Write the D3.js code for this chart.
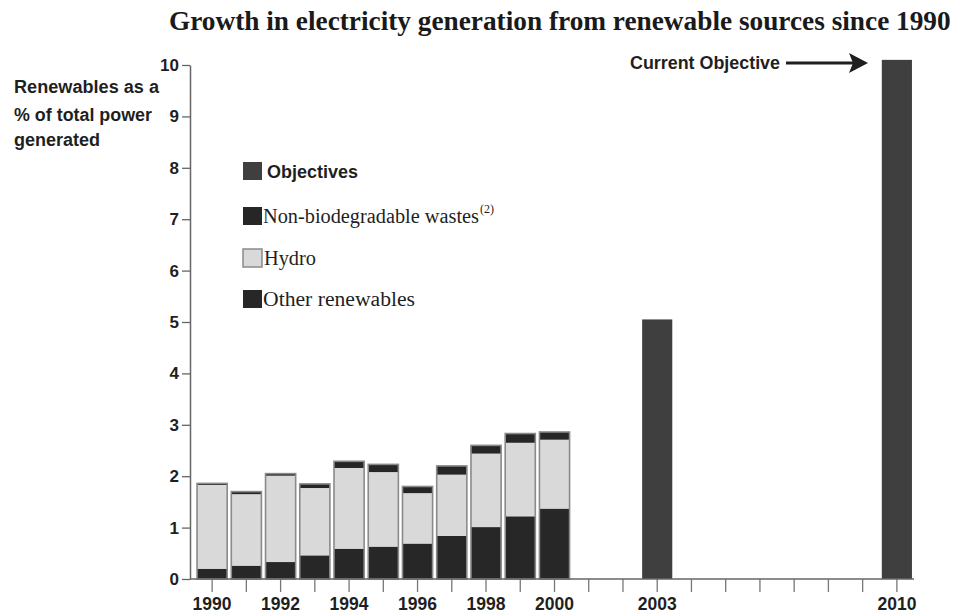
<!DOCTYPE html>
<html>
<head>
<meta charset="utf-8">
<script src="https://cdn.jsdelivr.net/npm/d3@7"></script>
<style>
  html, body { margin: 0; padding: 0; background: #fff; }
  svg { display: block; }
</style>
</head>
<body>
<svg id="chart" width="963" height="615"></svg>
<script>
// Renewables share of total power generated (%), by year
const years = [1990, 1991, 1992, 1993, 1994, 1995, 1996, 1997, 1998, 1999, 2000];
const otherRenewables = [0.20, 0.26, 0.33, 0.46, 0.59, 0.63, 0.69, 0.84, 1.01, 1.22, 1.37];
const hydro = [1.63, 1.39, 1.68, 1.31, 1.57, 1.45, 0.98, 1.19, 1.43, 1.43, 1.34];
const wastes = [0.03, 0.05, 0.04, 0.08, 0.13, 0.15, 0.13, 0.17, 0.16, 0.18, 0.15];

// Target shares
const objectiveYears = [2003, 2010];
const objectives = [5.05, 10.1];

// Axis ticks
const axisYears = d3.range(1990, 2011);
const labelledYears = [1990, 1992, 1994, 1996, 1998, 2000, 2003, 2010];
const yTicks = d3.range(0, 11);

const seriesKeys = ["other", "hydro", "wastes"];
const colors = { other: "#272727", hydro: "#d9d9d9", wastes: "#262626", objective: "#3f3f3f" };

const svg = d3.select("#chart");
const sans = "'Liberation Sans', Arial, sans-serif";
const serif = "'Liberation Serif', 'Times New Roman', serif";

const x = d3.scaleBand().domain(axisYears).range([195, 914]).paddingInner(0.12).paddingOuter(0.06);
const y = d3.scaleLinear().domain([0, 10]).range([579, 65]);
const axisX = 190;

// Title, horizontally condensed to span 169..951
const title = svg.append("text")
  .style("font-family", serif).style("font-weight", "bold").style("font-size", "28px")
  .attr("fill", "#1a1a1a")
  .text("Growth in electricity generation from renewable sources since 1990");
const titleNatural = title.node().getComputedTextLength();
title.attr("transform", `translate(169,30) scale(${782 / titleNatural},1)`);

// Y axis title
const yTitle = [
  { t: "Renewables as a", y: 93, w: 145 },
  { t: "% of total power", y: 121, w: 138 },
  { t: "generated", y: 146, w: 86 }
];
svg.append("g").selectAll("text").data(yTitle).join("text")
  .attr("x", 14).attr("y", d => d.y)
  .attr("textLength", d => d.w).attr("lengthAdjust", "spacingAndGlyphs")
  .style("font-family", sans).style("font-weight", "bold").style("font-size", "18px")
  .attr("fill", "#1f1f1f")
  .text(d => d.t);

// Stacked bars 1990-2000
const table = years.map((yr, i) => ({ year: yr, other: otherRenewables[i], hydro: hydro[i], wastes: wastes[i] }));
const stacked = d3.stack().keys(seriesKeys)(table);

const barG = svg.append("g");
stacked.forEach(layer => {
  barG.append("g").attr("fill", colors[layer.key])
    .selectAll("rect").data(layer).join("rect")
    .attr("x", d => x(d.data.year))
    .attr("width", x.bandwidth())
    .attr("y", d => y(d[1]))
    .attr("height", d => y(d[0]) - y(d[1]));
});
// Outline around each stack
barG.append("g").selectAll("rect").data(table).join("rect")
  .attr("x", d => x(d.year))
  .attr("width", x.bandwidth())
  .attr("y", d => y(d.other + d.hydro + d.wastes))
  .attr("height", d => y(0) - y(d.other + d.hydro + d.wastes))
  .attr("fill", "none").attr("stroke", "#8a8a8a").attr("stroke-width", 1.6);

// Objective bars
svg.append("g").selectAll("rect").data(objectiveYears.map((yr, i) => ({ year: yr, v: objectives[i] })))
  .join("rect")
  .attr("x", d => x(d.year))
  .attr("width", x.bandwidth())
  .attr("y", d => y(d.v))
  .attr("height", d => y(0) - y(d.v))
  .attr("fill", colors.objective);

// Y axis
const yAxis = svg.append("g").attr("transform", `translate(${axisX},0)`)
  .call(d3.axisLeft(y).tickValues(yTicks).tickSize(8).tickSizeOuter(0).tickPadding(3));
yAxis.select(".domain").attr("stroke", "#666").attr("stroke-width", 1.5);
yAxis.selectAll(".tick line").attr("stroke", "#666").attr("stroke-width", 1.3);
yAxis.selectAll(".tick text")
  .style("font-family", sans).style("font-weight", "bold").style("font-size", "17px")
  .attr("fill", "#1f1f1f");

// X axis
const xAxis = svg.append("g").attr("transform", `translate(0,${y(0)})`)
  .call(d3.axisBottom(x).tickValues(axisYears).tickSize(13).tickSizeOuter(0).tickPadding(5)
    .tickFormat(d => labelledYears.includes(d) ? String(d) : ""));
xAxis.select(".domain").remove();
xAxis.append("line")
  .attr("x1", axisX).attr("x2", 914).attr("y1", 0).attr("y2", 0)
  .attr("stroke", "#666").attr("stroke-width", 1.5);
xAxis.selectAll(".tick line").attr("stroke", "#777").attr("stroke-width", 1.3);
xAxis.selectAll(".tick text")
  .style("font-family", sans).style("font-weight", "bold").style("font-size", "18px")
  .attr("fill", "#1f1f1f")
  .attr("textLength", 39).attr("lengthAdjust", "spacingAndGlyphs");

// Legend
const legendItems = [
  { label: "Objectives", fill: colors.objective, font: sans, bold: true, size: 18, y: 171, w: 91, tx: 267 },
  { label: "Non-biodegradable wastes", fill: colors.wastes, font: serif, bold: false, size: 20, y: 216, w: 216, tx: 263, sup: "(2)" },
  { label: "Hydro", fill: colors.hydro, font: serif, bold: false, size: 20, y: 258, w: 52, tx: 264, stroke: "#8a8a8a" },
  { label: "Other renewables", fill: colors.other, font: serif, bold: false, size: 20, y: 299, w: 152, tx: 263 }
];
const lg = svg.append("g").selectAll("g").data(legendItems).join("g");
lg.append("rect")
  .attr("x", 243).attr("y", d => d.y - 9)
  .attr("width", 19).attr("height", 18)
  .attr("fill", d => d.fill)
  .attr("stroke", d => d.stroke || "none").attr("stroke-width", 1.5);
lg.append("text")
  .attr("x", d => d.tx).attr("y", d => d.y + 7)
  .attr("textLength", d => d.w).attr("lengthAdjust", "spacingAndGlyphs")
  .style("font-family", d => d.font)
  .style("font-weight", d => d.bold ? "bold" : "normal")
  .style("font-size", d => d.size + "px")
  .attr("fill", "#1f1f1f")
  .text(d => d.label);
lg.filter(d => d.sup).append("text")
  .attr("x", d => d.tx + d.w + 1).attr("y", d => d.y - 3)
  .style("font-family", serif).style("font-size", "12px")
  .attr("fill", "#1f1f1f")
  .text(d => d.sup);

// Annotation pointing at the 2010 target
const ann = svg.append("g");
ann.append("text")
  .attr("x", 630).attr("y", 69)
  .attr("textLength", 150).attr("lengthAdjust", "spacingAndGlyphs")
  .style("font-family", sans).style("font-weight", "bold").style("font-size", "18px")
  .attr("fill", "#1f1f1f")
  .text("Current Objective");
ann.append("line")
  .attr("x1", 786).attr("x2", 860).attr("y1", 63).attr("y2", 63)
  .attr("stroke", "#1f1f1f").attr("stroke-width", 3);
ann.append("path")
  .attr("d", "M849,53 L868,63 L849,73 L853,63 Z")
  .attr("fill", "#1f1f1f");
</script>
</body>
</html>
